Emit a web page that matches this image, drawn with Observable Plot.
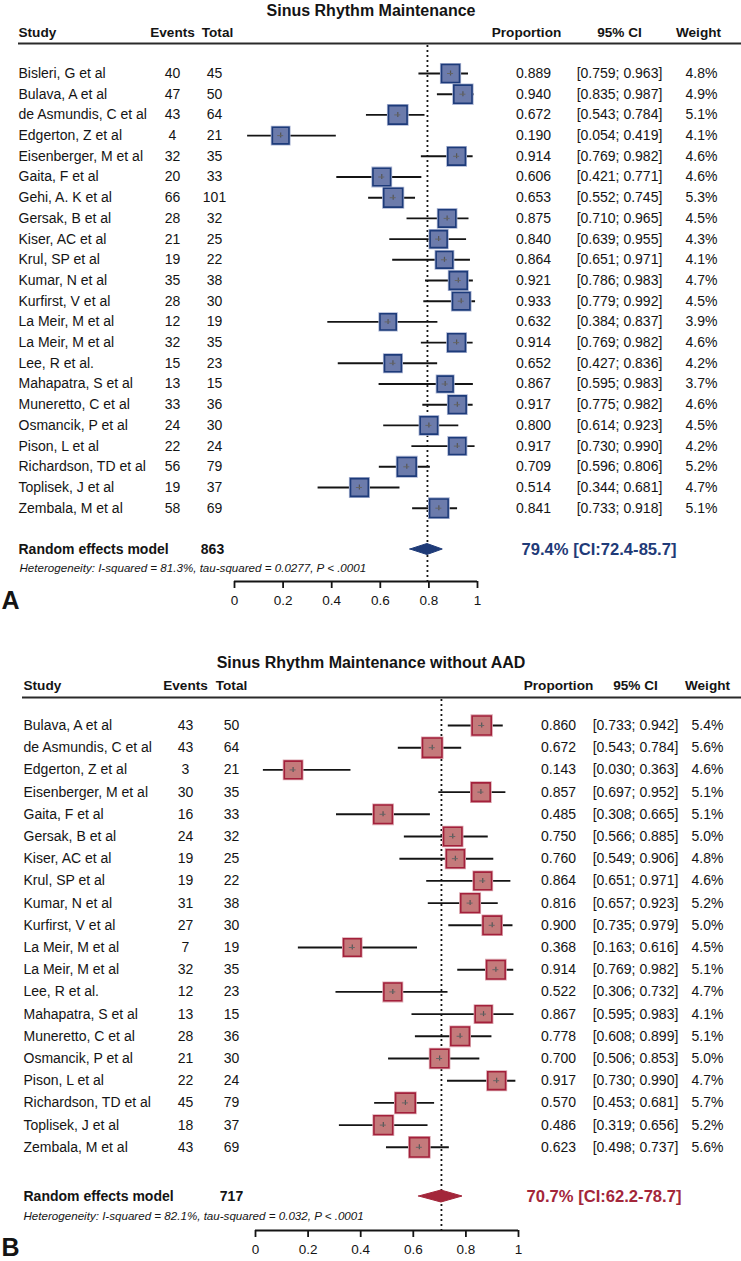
<!DOCTYPE html>
<html><head><meta charset="utf-8">
<script src="https://cdn.jsdelivr.net/npm/d3@7"></script>
<script src="https://cdn.jsdelivr.net/npm/@observablehq/plot@0.6"></script>
<style>
body{margin:0;background:#fff;}
#wrap{width:741px;}
#wrap svg{display:block;}
</style></head><body><div id="wrap"></div>
<script>
// ---------- Panel A data ----------
const titleA = "Sinus Rhythm Maintenance";
const studiesA = ["Bisleri, G et al","Bulava, A et al","de Asmundis, C et al","Edgerton, Z et al","Eisenberger, M et al","Gaita, F et al","Gehi, A. K et al","Gersak, B et al","Kiser, AC et al","Krul, SP et al","Kumar, N et al","Kurfirst, V et al","La Meir, M et al","La Meir, M et al","Lee, R et al.","Mahapatra, S et al","Muneretto, C et al","Osmancik, P et al","Pison, L et al","Richardson, TD et al","Toplisek, J et al","Zembala, M et al"];
const eventsA = [40,47,43,4,32,20,66,28,21,19,35,28,12,32,15,13,33,24,22,56,19,58];
const totalA = [45,50,64,21,35,33,101,32,25,22,38,30,19,35,23,15,36,30,24,79,37,69];
const propA = [0.889,0.940,0.672,0.190,0.914,0.606,0.653,0.875,0.840,0.864,0.921,0.933,0.632,0.914,0.652,0.867,0.917,0.800,0.917,0.709,0.514,0.841];
const lowerA = [0.759,0.835,0.543,0.054,0.769,0.421,0.552,0.710,0.639,0.651,0.786,0.779,0.384,0.769,0.427,0.595,0.775,0.614,0.730,0.596,0.344,0.733];
const upperA = [0.963,0.987,0.784,0.419,0.982,0.771,0.745,0.965,0.955,0.971,0.983,0.992,0.837,0.982,0.836,0.983,0.982,0.923,0.990,0.806,0.681,0.918];
const weightA = [4.8,4.9,5.1,4.1,4.6,4.6,5.3,4.5,4.3,4.1,4.7,4.5,3.9,4.6,4.2,3.7,4.6,4.5,4.2,5.2,4.7,5.1];
const pooledA = {total: 863, est: 0.794, lo: 0.724, hi: 0.857};
const pooledTextA = "79.4% [CI:72.4-85.7]";
const hetA = "Heterogeneity: I-squared = 81.3%, tau-squared = 0.0277, P < .0001";

// ---------- Panel B data ----------
const titleB = "Sinus Rhythm Maintenance without AAD";
const studiesB = ["Bulava, A et al","de Asmundis, C et al","Edgerton, Z et al","Eisenberger, M et al","Gaita, F et al","Gersak, B et al","Kiser, AC et al","Krul, SP et al","Kumar, N et al","Kurfirst, V et al","La Meir, M et al","La Meir, M et al","Lee, R et al.","Mahapatra, S et al","Muneretto, C et al","Osmancik, P et al","Pison, L et al","Richardson, TD et al","Toplisek, J et al","Zembala, M et al"];
const eventsB = [43,43,3,30,16,24,19,19,31,27,7,32,12,13,28,21,22,45,18,43];
const totalB = [50,64,21,35,33,32,25,22,38,30,19,35,23,15,36,30,24,79,37,69];
const propB = [0.860,0.672,0.143,0.857,0.485,0.750,0.760,0.864,0.816,0.900,0.368,0.914,0.522,0.867,0.778,0.700,0.917,0.570,0.486,0.623];
const lowerB = [0.733,0.543,0.030,0.697,0.308,0.566,0.549,0.651,0.657,0.735,0.163,0.769,0.306,0.595,0.608,0.506,0.730,0.453,0.319,0.498];
const upperB = [0.942,0.784,0.363,0.952,0.665,0.885,0.906,0.971,0.923,0.979,0.616,0.982,0.732,0.983,0.899,0.853,0.990,0.681,0.656,0.737];
const weightB = [5.4,5.6,4.6,5.1,5.1,5.0,4.8,4.6,5.2,5.0,4.5,5.1,4.7,4.1,5.1,5.0,4.7,5.7,5.2,5.6];
const pooledB = {total: 717, est: 0.707, lo: 0.622, hi: 0.787};
const pooledTextB = "70.7% [CI:62.2-78.7]";
const hetB = "Heterogeneity: I-squared = 82.1%, tau-squared = 0.032, P < .0001";

const xTicks = [0, 0.2, 0.4, 0.6, 0.8, 1];
const headers = ["Study", "Events", "Total", "Proportion", "95% CI", "Weight"];

const FONT = '"Liberation Sans", Arial, Helvetica, sans-serif';
const INK = "#141414";

function panel(cfg) {
  const L = cfg.layout;
  const n = cfg.studies.length;
  const rows = cfg.studies.map((s, i) => ({
    i, study: s, events: cfg.events[i], total: cfg.total[i],
    p: cfg.prop[i], lo: cfg.lower[i], hi: cfg.upper[i], w: cfg.weight[i]
  }));
  const rowOf = px => (px - L.row0) / L.step;          // layout pixel -> row units
  const xOf = px => (px - L.x0) / (L.x1 - L.x0);      // layout pixel -> data units
  const f3 = d3.format(".3f");
  const P = cfg.pooled;
  const rRand = rowOf(L.randomY);
  const dh = L.diamondH / L.step;
  const diamond = [
    {x: P.lo, y1: rRand, y2: rRand},
    {x: P.est, y1: rRand - dh, y2: rRand + dh},
    {x: P.hi, y1: rRand, y2: rRand}
  ];
  const hdr = (k) => headers[k];
  const txt = (data, opts) => Plot.text(data, Object.assign({fill: INK, fontSize: 14}, opts));
  const HS = 13.6;

  return Plot.plot({
    width: 741, height: L.height,
    margin: 0,
    x: {domain: [0, 1], range: [L.x0, L.x1], axis: null},
    y: {domain: [0, n - 1], range: [L.row0, L.row0 + (n - 1) * L.step], axis: null},
    r: {type: "sqrt", domain: [0, 6], range: [0, 11.35]},
    style: {fontFamily: FONT, background: "white", color: INK},
    marks: [
      // title
      txt([cfg.title], {x: () => xOf(370.5), y: () => rowOf(L.titleY), text: d => d, fontSize: 16, fontWeight: "bold", textAnchor: "middle"}),
      // header row
      txt([hdr(0)], {x: () => xOf(L.studyX), y: () => rowOf(L.headerY), text: d => d, fontSize: HS, fontWeight: "bold", textAnchor: "start"}),
      txt([hdr(1)], {x: () => xOf(L.eventsHX), y: () => rowOf(L.headerY), text: d => d, fontSize: HS, fontWeight: "bold", textAnchor: "middle"}),
      txt([hdr(2)], {x: () => xOf(L.totalHX), y: () => rowOf(L.headerY), text: d => d, fontSize: HS, fontWeight: "bold", textAnchor: "middle"}),
      txt([hdr(3)], {x: () => xOf(L.propHX), y: () => rowOf(L.headerY), text: d => d, fontSize: HS, fontWeight: "bold", textAnchor: "middle"}),
      txt([hdr(4)], {x: () => xOf(L.ciX), y: () => rowOf(L.headerY), text: d => d, fontSize: HS, fontWeight: "bold", textAnchor: "middle"}),
      txt([hdr(5)], {x: () => xOf(L.wHX), y: () => rowOf(L.headerY), text: d => d, fontSize: HS, fontWeight: "bold", textAnchor: "middle"}),
      Plot.ruleY([rowOf(L.hlineY)], {x1: () => xOf(L.hx0), x2: () => xOf(741), stroke: "#2a2a2a", strokeWidth: 2}),
      // reference (pooled) dotted line
      Plot.ruleX([P.est], {y1: () => rowOf(L.dotTop), y2: () => rowOf(L.axisY), stroke: INK, strokeWidth: 1.8, strokeDasharray: "2,3"}),
      // CI lines
      Plot.ruleY(rows, {y: "i", x1: "lo", x2: "hi", stroke: INK, strokeWidth: 1.9}),
      // squares (halo + square)
      Plot.dot(rows, {x: "p", y: "i", r: "w", symbol: "square", fill: cfg.fill, stroke: cfg.halo, strokeWidth: 3.2, sort: null}),
      Plot.dot(rows, {x: "p", y: "i", r: "w", symbol: "square", fill: cfg.fill, stroke: cfg.stroke, strokeWidth: 1.6, sort: null}),
      // small cross at the estimate
      Plot.ruleX(rows, {x: "p", y1: d => d.i - 2.5 / L.step, y2: d => d.i + 2.5 / L.step, stroke: "#555", strokeWidth: 1.2}),
      Plot.ruleY(rows, {y: "i", x1: d => d.p - 3 / (L.x1 - L.x0), x2: d => d.p + 3 / (L.x1 - L.x0), stroke: "#666", strokeWidth: 1}),
      // table columns
      txt(rows, {x: () => xOf(L.studyX), y: "i", text: "study", textAnchor: "start"}),
      txt(rows, {x: () => xOf(L.eventsX), y: "i", text: "events", textAnchor: "middle"}),
      txt(rows, {x: () => xOf(L.totalX), y: "i", text: "total", textAnchor: "middle"}),
      txt(rows, {x: () => xOf(L.propX), y: "i", text: d => f3(d.p), textAnchor: "middle"}),
      txt(rows, {x: () => xOf(L.ciX), y: "i", text: d => `[${f3(d.lo)}; ${f3(d.hi)}]`, textAnchor: "middle"}),
      txt(rows, {x: () => xOf(L.wX), y: "i", text: d => `${d.w.toFixed(1)}%`, textAnchor: "middle"}),
      // pooled row
      txt(["Random effects model"], {x: () => xOf(L.studyX), y: () => rRand, text: d => d, fontWeight: "bold", textAnchor: "start"}),
      txt([P.total], {x: () => xOf(L.randTotX), y: () => rRand, text: d => d, fontWeight: "bold", textAnchor: "middle"}),
      Plot.areaY(diamond, {x: "x", y1: "y1", y2: "y2", fill: cfg.diamond, stroke: cfg.diamond, strokeWidth: 1}),
      txt([cfg.pooledText], {x: () => xOf(L.pooledTextX), y: () => rRand, text: d => d, fill: cfg.diamond, fontSize: 16.6, fontWeight: "bold", textAnchor: "start"}),
      txt([cfg.het], {x: () => xOf(L.hetX), y: () => rowOf(L.hetY), text: d => d, fontSize: 11.6, fontStyle: "italic", textAnchor: "start"}),
      // x axis
      Plot.ruleY([rowOf(L.axisY)], {x1: 0, x2: 1, stroke: INK, strokeWidth: 1.9}),
      Plot.ruleX(xTicks, {x: d => d, y1: () => rowOf(L.axisY), y2: () => rowOf(L.axisY + 7), stroke: INK, strokeWidth: 1.8}),
      txt(xTicks, {x: d => d, y: () => rowOf(L.tickLabelY), text: d => d3.format("~g")(d), fontSize: 13.5, textAnchor: "middle"}),
      // panel letter
      txt([cfg.letter], {x: () => xOf(1), y: () => rowOf(L.letterY), text: d => d, fontSize: 25, fontWeight: "bold", textAnchor: "start"})
    ]
  });
}

const layoutA = {height: 620, x0: 234, x1: 477, row0: 73, step: 20.7,
  titleY: 10, headerY: 32, hlineY: 43, hx0: 18, dotTop: 45,
  randomY: 549, diamondH: 5.5, hetY: 568, axisY: 581, tickLabelY: 600, letterY: 600,
  studyX: 18, eventsX: 172, eventsHX: 172, totalX: 214, totalHX: 217,
  propX: 533, propHX: 526, ciX: 619, wX: 701, wHX: 698,
  randTotX: 212, pooledTextX: 521, hetX: 19};

const layoutB = {height: 641, x0: 255, x1: 518, row0: 105, step: 22.2,
  titleY: 42, headerY: 65, hlineY: 77, hx0: 22, dotTop: 79,
  randomY: 576, diamondH: 6, hetY: 596, axisY: 610, tickLabelY: 629, letterY: 627,
  studyX: 23, eventsX: 185, eventsHX: 185, totalX: 231, totalHX: 231,
  propX: 558, propHX: 558, ciX: 635, wX: 707, wHX: 707,
  randTotX: 231, pooledTextX: 526, hetX: 23};

const wrap = document.getElementById("wrap");
wrap.appendChild(panel({
  title: titleA, studies: studiesA, events: eventsA, total: totalA, prop: propA,
  lower: lowerA, upper: upperA, weight: weightA, pooled: pooledA, pooledText: pooledTextA,
  het: hetA, letter: "A", layout: layoutA,
  fill: "#6c7bab", stroke: "#1d3b7a", halo: "#aab4d2", diamond: "#1f3b78"
}));
wrap.appendChild(panel({
  title: titleB, studies: studiesB, events: eventsB, total: totalB, prop: propB,
  lower: lowerB, upper: upperB, weight: weightB, pooled: pooledB, pooledText: pooledTextB,
  het: hetB, letter: "B", layout: layoutB,
  fill: "#c47a7b", stroke: "#a3203b", halo: "#dcaab2", diamond: "#a3263a"
}));
</script>
</body></html>
